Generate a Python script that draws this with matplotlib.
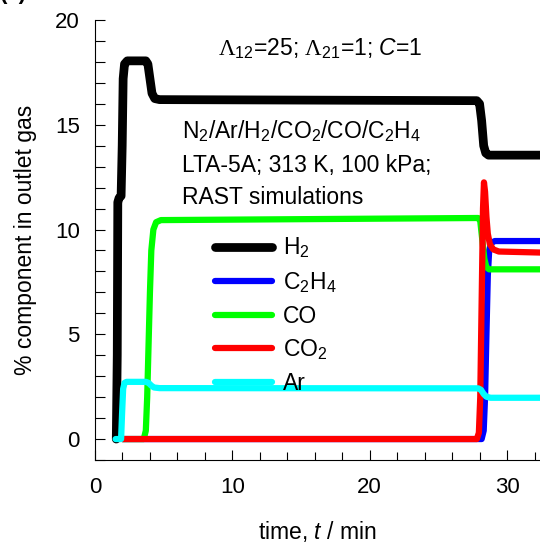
import numpy as np
import matplotlib
matplotlib.use("Agg")
import matplotlib.pyplot as plt
from matplotlib.ticker import MultipleLocator

plt.rcParams['font.family'] = ['Liberation Sans', 'DejaVu Sans']
plt.rcParams['mathtext.fontset'] = 'custom'
plt.rcParams['mathtext.rm'] = 'Liberation Sans'
plt.rcParams['mathtext.it'] = 'Liberation Sans:italic'
plt.rcParams['mathtext.sf'] = 'Liberation Serif'

# breakthrough curves, % in outlet gas vs time (min)
t_h2 = [1.55, 1.62, 1.66, 1.75, 1.9, 1.98, 2.05, 2.15, 2.35, 3.7, 3.85, 4.0, 4.15, 4.35, 4.7, 27.8, 28.0, 28.15, 28.3, 28.45, 28.65, 32.5]
y_h2 = [0.0, 4.0, 11.3, 11.5, 11.6, 14.0, 17.2, 17.9, 18.05, 18.05, 17.9, 17.2, 16.5, 16.25, 16.2, 16.15, 16.0, 15.2, 14.0, 13.65, 13.55, 13.55]

t_c2h4 = [2.0, 28.15, 28.3, 28.4, 28.5, 28.6, 28.7, 28.85, 29.1, 32.5]
y_c2h4 = [0.0, 0.0, 0.4, 2.0, 5.0, 7.8, 9.0, 9.35, 9.45, 9.45]

t_co = [2.0, 3.55, 3.7, 3.8, 3.9, 4.0, 4.1, 4.25, 4.45, 4.8, 27.9, 28.05, 28.2, 28.35, 28.5, 28.7, 32.5]
y_co = [0.0, 0.0, 0.4, 2.0, 4.5, 7.0, 9.0, 10.0, 10.35, 10.45, 10.55, 10.4, 9.5, 8.6, 8.2, 8.1, 8.1]

t_co2 = [2.0, 27.8, 27.95, 28.05, 28.15, 28.25, 28.32, 28.4, 28.5, 28.6, 28.75, 29.0, 29.4, 32.5]
y_co2 = [0.0, 0.0, 0.3, 2.0, 6.5, 11.0, 12.25, 11.8, 10.6, 9.8, 9.3, 9.05, 8.95, 8.9]

t_ar = [1.5, 1.9, 1.97, 2.05, 2.15, 2.3, 3.7, 3.9, 4.1, 4.3, 4.7, 27.9, 28.1, 28.3, 28.5, 28.8, 32.5]
y_ar = [0.0, 0.0, 1.2, 2.4, 2.68, 2.73, 2.73, 2.68, 2.55, 2.46, 2.43, 2.42, 2.35, 2.15, 2.02, 1.97, 1.97]

series = [
    (t_h2, y_h2, 'black', 6.3, r'H$_2$'),
    (t_c2h4, y_c2h4, '#0000ff', 4.5, r'C$_2$H$_4$'),
    (t_co, y_co, '#00ff00', 4.5, 'CO'),
    (t_co2, y_co2, '#ff0000', 4.5, r'CO$_2$'),
    (t_ar, y_ar, '#00ffff', 4.5, 'Ar'),
]

fs = 16.5

fig = plt.figure(figsize=(5.4, 5.47), dpi=100)
ax = fig.add_axes([95/540, 1 - 460/547, 1 - 95/540, 440/547])

for t, y, c, lw, lab in series:
    ax.plot(t, y, color=c, lw=lw, label=lab, solid_capstyle='round', solid_joinstyle='round')

ax.set_xlim(0, 32.4)
ax.set_ylim(-1, 20)
ax.spines['top'].set_visible(False)
ax.spines['right'].set_visible(False)
ax.xaxis.set_major_locator(MultipleLocator(10))
ax.xaxis.set_minor_locator(MultipleLocator(2))
ax.yaxis.set_major_locator(MultipleLocator(5))
ax.yaxis.set_minor_locator(MultipleLocator(1))
ax.tick_params(which='both', direction='in', labelsize=16, width=0.8)
ax.tick_params(axis='y', which='both', length=7, pad=11)
ax.tick_params(axis='x', which='major', length=7, pad=12)
ax.tick_params(axis='x', which='minor', length=5.5)

ax.set_xlabel(r'time, $t$ / min', fontsize=fs, labelpad=15)
ax.set_ylabel('% component in outlet gas', fontsize=fs, labelpad=13)

ax.text(8.95, 18.33, r'$\mathsf{\Lambda}_{12}$=25; $\mathsf{\Lambda}_{21}$=1; $C$=1',
        fontsize=fs, va='baseline')
ax.text(6.3, 14.37, r'N$_2$/Ar/H$_2$/CO$_2$/CO/C$_2$H$_4$', fontsize=fs, va='baseline')
ax.text(6.3, 12.74, 'LTA-5A; 313 K, 100 kPa;', fontsize=fs, va='baseline')
ax.text(6.3, 11.2, 'RAST simulations', fontsize=fs, va='baseline')

leg = ax.legend(loc='upper left', bbox_to_anchor=(0.27, 0.51), frameon=False,
                fontsize=fs, handlelength=2.5, handletextpad=0.45,
                labelspacing=0.42, borderpad=0, borderaxespad=0)

fig.text(0.0, 1.012, '(a)', fontsize=16, fontweight='bold', va='center', ha='left')

fig.savefig('out.png', dpi=100)
